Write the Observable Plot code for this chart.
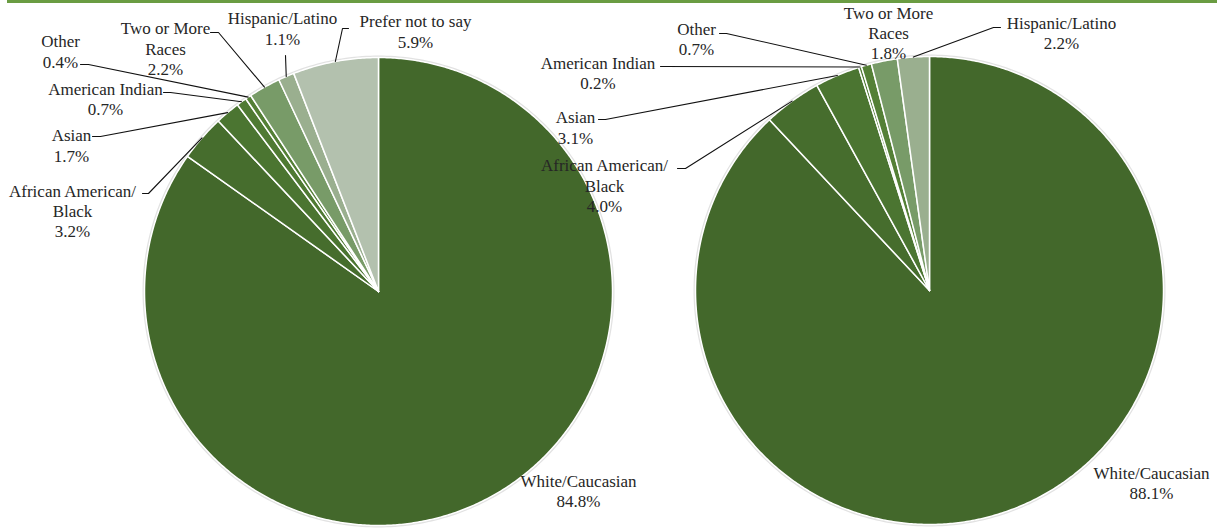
<!DOCTYPE html>
<html><head><meta charset="utf-8">
<script src="https://cdn.jsdelivr.net/npm/d3@7"></script>
<script src="https://cdn.jsdelivr.net/npm/@observablehq/plot@0.6"></script>
<style>
html,body{margin:0;padding:0;background:#fff;}
#wrap{position:relative;width:1217px;height:529px;overflow:hidden}
#bar{position:absolute;left:7px;right:0;top:0;height:3px;background:#6a9c42;z-index:2}
#wrap svg{position:absolute;left:0;top:0}
#wrap svg text{font-family:"Liberation Serif",serif}
</style></head><body><div id="wrap"><div id="bar"></div></div>
<script>
// ---- data ----
const categories = ["White/Caucasian","African American/Black","Asian","American Indian","Other","Two or More Races","Hispanic/Latino","Prefer not to say"];
const labelNames = ["White/Caucasian","African American/\nBlack","Asian","American Indian","Other","Two or More\nRaces","Hispanic/Latino","Prefer not to say"];
const leftValues  = [84.8, 3.2, 1.7, 0.7, 0.4, 2.2, 1.1, 5.9];
const rightValues = [88.1, 4.0, 3.1, 0.2, 0.7, 1.8, 2.2, null];
const colors = ["#43682b","#466d2d","#4b7531","#4f7a33","#548036","#789b68","#9aaf8f","#b3c1ae"];

// ---- layout (pixels) ----
const W = 1217, H = 529, R = 234;
const layout = [
  {values: leftValues, cx: 378, cy: 291,
   labels: [
     {x: 578, y: 490},
     {x: 72, y: 210, lead: [[142,193],[148,193]]},
     {x: 71, y: 144.5, lead: [[92,136],[100,136]]},
     {x: 105, y: 98, lead: [[163,92],[170,92]]},
     {x: 60, y: 50.5, lead: [[80,64],[88,64]]},
     {x: 165, y: 47.5, lead: [[210,32],[218,32]]},
     {x: 282, y: 27.5, lead: [[285,55]]},
     {x: 415, y: 30.5, lead: [[348,28],[342,28]]}
   ]},
  {values: rightValues, cx: 929, cy: 290,
   labels: [
     {x: 1151, y: 482},
     {x: 604, y: 184.5, lead: [[677,168],[685,168]]},
     {x: 575, y: 126.5, lead: [[598,119],[605,119]]},
     {x: 597.5, y: 72, lead: [[660,66]]},
     {x: 696, y: 38, lead: [[719,33],[726,33]]},
     {x: 888, y: 32},
     {x: 1061, y: 32, lead: [[1000,27],[993,27]]},
     null
   ]}
];

const slices = [], halo = [], leaders = [], labels = [];
layout.forEach((p, pi) => {
  const total = d3.sum(p.values.filter(v => v != null));
  const pt = (a, r) => [p.cx + r * Math.sin(a), p.cy - r * Math.cos(a)];
  for (let k = 0; k <= 360; k++) {
    const [x, y] = pt(k * Math.PI / 180, R + 1);
    halo.push({pie: pi, x, y});
  }
  let acc = 0;
  p.values.forEach((v, i) => {
    if (v == null) return;
    const a0 = acc / total * 2 * Math.PI, a1 = (acc + v) / total * 2 * Math.PI;
    acc += v;
    const id = pi + "-" + i;
    slices.push({id, cat: categories[i], x: p.cx, y: p.cy});
    const n = Math.max(2, Math.ceil((a1 - a0) / (Math.PI / 360)));
    for (let s = 0; s <= n; s++) {
      const [x, y] = pt(a0 + (a1 - a0) * s / n, R);
      slices.push({id, cat: categories[i], x, y});
    }
    slices.push({id, cat: categories[i], x: p.cx, y: p.cy});
    const L = p.labels[i];
    if (!L) return;
    labels.push({x: L.x, y: L.y, text: labelNames[i] + "\n" + v.toFixed(1) + "%"});
    if (L.lead) {
      L.lead.forEach(([x, y]) => leaders.push({id, x, y}));
      const [x, y] = pt((a0 + a1) / 2, R);
      leaders.push({id, x, y});
    }
  });
});

const chart = Plot.plot({
  width: W, height: H, margin: 0,
  x: {domain: [0, W], range: [0, W], axis: null},
  y: {domain: [0, H], range: [0, H], axis: null},
  color: {domain: categories, range: colors},
  style: {fontFamily: "Liberation Serif", background: "transparent"},
  marks: [
    Plot.line(halo, {x: "x", y: "y", z: "pie", stroke: "#e2e2e2", strokeWidth: 2}),
    Plot.line(slices, {x: "x", y: "y", z: "id", fill: "cat", stroke: "white", strokeWidth: 1.5, strokeLinejoin: "round"}),
    Plot.line(leaders, {x: "x", y: "y", z: "id", stroke: "#111", strokeWidth: 1.1}),
    Plot.text(labels, {x: "x", y: "y", text: "text", textAnchor: "middle", lineAnchor: "middle", lineHeight: 1.2, fontSize: 17, fontFamily: "Liberation Serif", fill: "#262626"})
  ]
});
document.getElementById("wrap").appendChild(chart);
</script>
</body></html>
